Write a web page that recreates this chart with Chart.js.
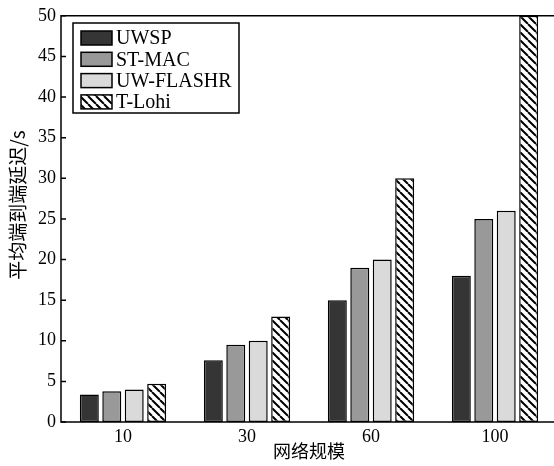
<!DOCTYPE html>
<html>
<head>
<meta charset="utf-8">
<script src="https://cdn.jsdelivr.net/npm/chart.js@4.4.1/dist/chart.umd.min.js"></script>
<style>
  html, body { margin: 0; padding: 0; background: #fff; overflow: hidden; }
  #wrap { width: 560px; height: 466px; }
</style>
</head>
<body>
<div id="wrap"><canvas id="chart" width="560" height="466"></canvas></div>
<script>
// data
const categories = ['10', '30', '60', '100'];
const uwsp = [3.4, 7.6, 15, 18];
const stMac = [3.8, 9.5, 19, 25];
const uwFlashr = [4.0, 10, 20, 26];
const tLohi = [4.7, 13, 30, 50];
const yTicks = [0, 5, 10, 15, 20, 25, 30, 35, 40, 45, 50];

const SERIF = '"Liberation Serif", "DejaVu Serif", serif';
const CJK = '"Noto Sans CJK SC", sans-serif';

// diagonal hatch for T-Lohi
const makeHatch = () => {
  const s = 8;
  const c = document.createElement('canvas');
  c.width = s;
  c.height = s;
  const g = c.getContext('2d');
  g.fillStyle = '#fff';
  g.fillRect(0, 0, s, s);
  g.strokeStyle = '#000';
  g.lineWidth = 2;
  g.beginPath();
  [-s, 0, s].forEach((x0) => {
    g.moveTo(x0, 0);
    g.lineTo(x0 + s, s);
  });
  g.stroke();
  return document.getElementById('chart').getContext('2d').createPattern(c, 'repeat');
};
const hatch = makeHatch();

const boxPlugin = {
  id: 'box',
  afterDatasetsDraw(chart) {
    const { ctx, chartArea: a, width } = chart;
    const y = chart.scales.y;
    ctx.save();
    ctx.strokeStyle = '#000';
    ctx.lineWidth = 1.5;
    // left, top, bottom (right side falls outside the picture)
    ctx.beginPath();
    ctx.moveTo(width, a.top);
    ctx.lineTo(a.left, a.top);
    ctx.lineTo(a.left, a.bottom);
    ctx.lineTo(width, a.bottom);
    ctx.stroke();
    // inward ticks
    ctx.beginPath();
    yTicks.forEach((v) => {
      const py = y.getPixelForValue(v);
      ctx.moveTo(a.left, py);
      ctx.lineTo(a.left + 5, py);
    });
    ctx.stroke();

    // legend
    const lx = 73, ly = 23, lw = 166, lh = 90;
    ctx.fillStyle = '#fff';
    ctx.fillRect(lx, ly, lw, lh);
    ctx.lineWidth = 1.5;
    ctx.strokeRect(lx, ly, lw, lh);
    ctx.font = '20px ' + SERIF;
    ctx.textBaseline = 'middle';
    chart.data.datasets.forEach((ds, i) => {
      const cy = 38 + i * 21.3;
      ctx.fillStyle = ds.backgroundColor;
      ctx.fillRect(81, cy - 7, 31, 14);
      ctx.lineWidth = 1.5;
      ctx.strokeRect(81, cy - 7, 31, 14);
      ctx.fillStyle = '#000';
      ctx.fillText(ds.label, 116, cy + 1);
    });

    // y title
    ctx.save();
    ctx.translate(18, 205);
    ctx.rotate(-Math.PI / 2);
    ctx.textAlign = 'center';
    ctx.font = '19px ' + CJK;
    ctx.fillText('平均端到端延迟/s', 0, 0);
    ctx.restore();
    ctx.restore();
  },
};

const barStyle = {
  borderColor: '#000',
  borderWidth: 1.5,
  borderSkipped: false,
  barPercentage: 0.845,
  categoryPercentage: 0.724,
};

new Chart(document.getElementById('chart'), {
  type: 'bar',
  data: {
    labels: categories,
    datasets: [
      { label: 'UWSP', data: uwsp, backgroundColor: '#353535', ...barStyle },
      { label: 'ST-MAC', data: stMac, backgroundColor: '#999999', ...barStyle },
      { label: 'UW-FLASHR', data: uwFlashr, backgroundColor: '#dadada', ...barStyle },
      { label: 'T-Lohi', data: tLohi, backgroundColor: hatch, ...barStyle },
    ],
  },
  options: {
    responsive: false,
    animation: false,
    layout: { padding: { top: 15, right: 3, left: 0, bottom: 0 } },
    plugins: { legend: { display: false }, tooltip: { enabled: false } },
    scales: {
      x: {
        grid: { display: false, drawTicks: false },
        border: { display: false },
        ticks: { color: '#000', font: { family: SERIF, size: 18 }, padding: 4 },
        title: {
          display: true,
          text: '网络规模',
          color: '#000',
          font: { family: CJK, size: 18 },
          padding: { top: 0, bottom: 4 },
        },
        afterFit: (s) => { s.height = 44; },
      },
      y: {
        min: 0,
        max: 50,
        afterBuildTicks: (s) => { s.ticks = yTicks.map((v) => ({ value: v })); },
        grid: { display: false, drawTicks: false },
        border: { display: false },
        ticks: { color: '#000', font: { family: SERIF, size: 18 }, padding: 5 },
        afterFit: (s) => { s.width = 61; },
      },
    },
  },
  plugins: [boxPlugin],
});
</script>
</body>
</html>
